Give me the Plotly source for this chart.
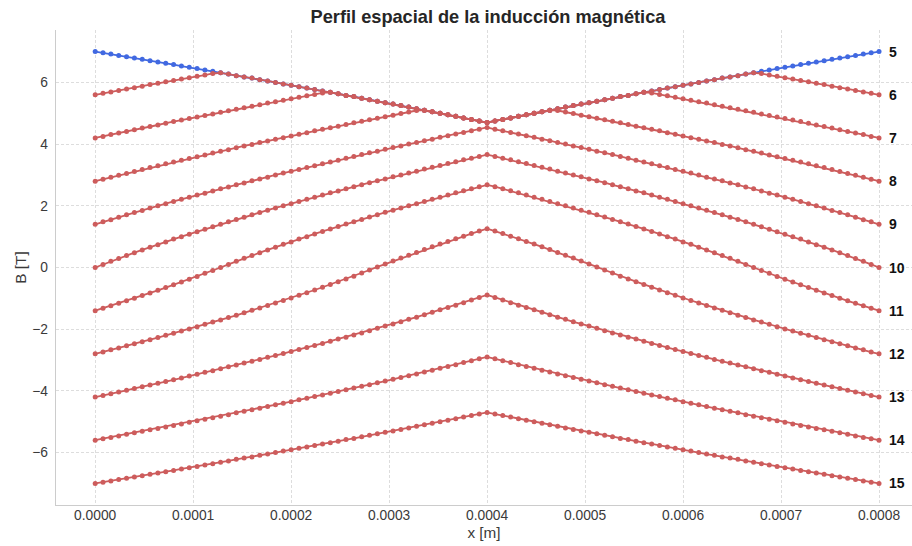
import numpy as np
import plotly.graph_objects as go

# x grid: 101 sample points across the 0.8 mm slab (step 8 µm, as counted in the picture)
x = np.linspace(0.0, 0.0008, 101)

labels = ["5", "6", "7", "8", "9", "10", "11", "12", "13", "14", "15"]

b5 = [7.00,6.96,6.92,6.87,6.83,6.79,6.75,6.70,6.66,6.62,
      6.58,6.53,6.49,6.45,6.40,6.36,6.31,6.27,6.22,6.18,
      6.14,6.09,6.05,6.00,5.95,5.91,5.86,5.82,5.77,5.72,
      5.68,5.63,5.58,5.54,5.49,5.44,5.39,5.34,5.30,5.25,
      5.20,5.15,5.10,5.05,5.00,4.95,4.90,4.85,4.80,4.75,
      4.70,
      4.75,4.80,4.85,4.90,4.95,5.00,5.05,5.10,5.15,5.20,
      5.25,5.30,5.34,5.39,5.44,5.49,5.54,5.58,5.63,5.68,
      5.72,5.77,5.82,5.86,5.91,5.95,6.00,6.05,6.09,6.14,
      6.18,6.22,6.27,6.31,6.36,6.40,6.45,6.49,6.53,6.58,
      6.62,6.66,6.70,6.75,6.79,6.83,6.87,6.92,6.96,7.00]

b6 = [5.60,5.65,5.69,5.74,5.79,5.83,5.88,5.93,5.97,6.02,
      6.06,6.11,6.15,6.20,6.24,6.29,6.31,6.27,6.22,6.18,
      6.14,6.09,6.05,6.00,5.95,5.91,5.86,5.82,5.77,5.72,
      5.68,5.63,5.58,5.54,5.49,5.44,5.39,5.34,5.30,5.25,
      5.20,5.15,5.10,5.05,5.00,4.95,4.90,4.85,4.80,4.75,
      4.70,
      4.75,4.80,4.85,4.90,4.95,5.00,5.05,5.10,5.15,5.20,
      5.25,5.30,5.34,5.39,5.44,5.49,5.54,5.58,5.63,5.68,
      5.72,5.77,5.82,5.86,5.91,5.95,6.00,6.05,6.09,6.14,
      6.18,6.22,6.27,6.31,6.29,6.24,6.20,6.15,6.11,6.06,
      6.02,5.97,5.93,5.88,5.83,5.79,5.74,5.69,5.65,5.60]

b7 = [4.20,4.25,4.31,4.36,4.41,4.47,4.52,4.57,4.62,4.68,
      4.73,4.78,4.83,4.88,4.93,4.98,5.03,5.08,5.13,5.18,
      5.23,5.28,5.33,5.37,5.42,5.47,5.52,5.57,5.61,5.66,
      5.68,5.63,5.58,5.54,5.49,5.44,5.39,5.34,5.30,5.25,
      5.20,5.15,5.10,5.05,5.00,4.95,4.90,4.85,4.80,4.75,
      4.70,
      4.75,4.80,4.85,4.90,4.95,5.00,5.05,5.10,5.15,5.20,
      5.25,5.30,5.34,5.39,5.44,5.49,5.54,5.58,5.63,5.68,
      5.66,5.61,5.57,5.52,5.47,5.42,5.37,5.33,5.28,5.23,
      5.18,5.13,5.08,5.03,4.98,4.93,4.88,4.83,4.78,4.73,
      4.68,4.62,4.57,4.52,4.47,4.41,4.36,4.31,4.25,4.20]

b8 = [2.80,2.86,2.93,2.99,3.05,3.11,3.18,3.24,3.30,3.36,
      3.42,3.48,3.53,3.59,3.65,3.71,3.77,3.82,3.88,3.94,
      3.99,4.05,4.10,4.16,4.21,4.26,4.32,4.37,4.43,4.48,
      4.53,4.58,4.64,4.69,4.74,4.79,4.84,4.89,4.94,4.99,
      5.04,5.09,5.10,5.05,5.00,4.95,4.90,4.85,4.80,4.75,
      4.70,
      4.75,4.80,4.85,4.90,4.95,5.00,5.05,5.10,5.09,5.04,
      4.99,4.94,4.89,4.84,4.79,4.74,4.69,4.64,4.58,4.53,
      4.48,4.43,4.37,4.32,4.26,4.21,4.16,4.10,4.05,3.99,
      3.94,3.88,3.82,3.77,3.71,3.65,3.59,3.53,3.48,3.42,
      3.36,3.30,3.24,3.18,3.11,3.05,2.99,2.93,2.86,2.80]

b9 = [1.40,1.48,1.55,1.63,1.71,1.78,1.85,1.93,2.00,2.07,
      2.14,2.21,2.28,2.35,2.41,2.48,2.55,2.61,2.68,2.74,
      2.81,2.87,2.93,3.00,3.06,3.12,3.18,3.24,3.30,3.36,
      3.42,3.48,3.54,3.60,3.66,3.72,3.77,3.83,3.89,3.94,
      4.00,4.05,4.11,4.16,4.22,4.27,4.33,4.38,4.43,4.48,
      4.54,
      4.48,4.43,4.38,4.33,4.27,4.22,4.16,4.11,4.05,4.00,
      3.94,3.89,3.83,3.77,3.72,3.66,3.60,3.54,3.48,3.42,
      3.36,3.30,3.24,3.18,3.12,3.06,3.00,2.93,2.87,2.81,
      2.74,2.68,2.61,2.55,2.48,2.41,2.35,2.28,2.21,2.14,
      2.07,2.00,1.93,1.85,1.78,1.71,1.63,1.55,1.48,1.40]

b10 = [0.00,0.10,0.20,0.29,0.39,0.48,0.57,0.66,0.74,0.83,
       0.92,1.00,1.08,1.16,1.24,1.32,1.40,1.48,1.56,1.63,
       1.71,1.78,1.86,1.93,2.00,2.07,2.14,2.21,2.28,2.35,
       2.42,2.48,2.55,2.62,2.68,2.75,2.81,2.87,2.94,3.00,
       3.06,3.12,3.19,3.25,3.31,3.37,3.43,3.49,3.54,3.60,
       3.66,
       3.60,3.54,3.49,3.43,3.37,3.31,3.25,3.19,3.12,3.06,
       3.00,2.94,2.87,2.81,2.75,2.68,2.62,2.55,2.48,2.42,
       2.35,2.28,2.21,2.14,2.07,2.00,1.93,1.86,1.78,1.71,
       1.63,1.56,1.48,1.40,1.32,1.24,1.16,1.08,1.00,0.92,
       0.83,0.74,0.66,0.57,0.48,0.39,0.29,0.20,0.10,0.00]

b11 = [-1.40,-1.32,-1.24,-1.16,-1.08,-1.00,-0.91,-0.83,-0.74,-0.65,
       -0.56,-0.47,-0.38,-0.29,-0.19,-0.10,0.00,0.10,0.20,0.30,
       0.39,0.48,0.57,0.66,0.75,0.83,0.92,1.00,1.09,1.17,
       1.25,1.33,1.41,1.48,1.56,1.64,1.71,1.79,1.86,1.93,
       2.00,2.07,2.14,2.21,2.28,2.35,2.42,2.49,2.55,2.62,
       2.68,
       2.62,2.55,2.49,2.42,2.35,2.28,2.21,2.14,2.07,2.00,
       1.93,1.86,1.79,1.71,1.64,1.56,1.48,1.41,1.33,1.25,
       1.17,1.09,1.00,0.92,0.83,0.75,0.66,0.57,0.48,0.39,
       0.30,0.20,0.10,0.00,-0.10,-0.19,-0.29,-0.38,-0.47,-0.56,
       -0.65,-0.74,-0.83,-0.91,-1.00,-1.08,-1.16,-1.24,-1.32,-1.40]

b12 = [-2.80,-2.74,-2.67,-2.61,-2.54,-2.47,-2.41,-2.34,-2.27,-2.20,
       -2.13,-2.06,-1.99,-1.92,-1.84,-1.77,-1.70,-1.62,-1.55,-1.47,
       -1.39,-1.31,-1.23,-1.15,-1.07,-0.99,-0.90,-0.82,-0.73,-0.64,
       -0.55,-0.46,-0.37,-0.28,-0.18,-0.08,0.02,0.11,0.21,0.31,
       0.40,0.49,0.58,0.67,0.76,0.84,0.93,1.01,1.10,1.18,
       1.26,
       1.18,1.10,1.01,0.93,0.84,0.76,0.67,0.58,0.49,0.40,
       0.31,0.21,0.11,0.02,-0.08,-0.18,-0.28,-0.37,-0.46,-0.55,
       -0.64,-0.73,-0.82,-0.90,-0.99,-1.07,-1.15,-1.23,-1.31,-1.39,
       -1.47,-1.55,-1.62,-1.70,-1.77,-1.84,-1.92,-1.99,-2.06,-2.13,
       -2.20,-2.27,-2.34,-2.41,-2.47,-2.54,-2.61,-2.67,-2.74,-2.80]

b13 = [-4.20,-4.15,-4.09,-4.04,-3.98,-3.92,-3.87,-3.81,-3.75,-3.70,
       -3.64,-3.58,-3.52,-3.46,-3.40,-3.35,-3.28,-3.22,-3.16,-3.10,
       -3.04,-2.98,-2.91,-2.85,-2.79,-2.72,-2.66,-2.59,-2.53,-2.46,
       -2.39,-2.32,-2.26,-2.19,-2.12,-2.05,-1.97,-1.90,-1.83,-1.76,
       -1.68,-1.61,-1.53,-1.45,-1.37,-1.30,-1.22,-1.14,-1.05,-0.97,
       -0.89,
       -0.97,-1.05,-1.14,-1.22,-1.30,-1.37,-1.45,-1.53,-1.61,-1.68,
       -1.76,-1.83,-1.90,-1.97,-2.05,-2.12,-2.19,-2.26,-2.32,-2.39,
       -2.46,-2.53,-2.59,-2.66,-2.72,-2.79,-2.85,-2.91,-2.98,-3.04,
       -3.10,-3.16,-3.22,-3.28,-3.35,-3.40,-3.46,-3.52,-3.58,-3.64,
       -3.70,-3.75,-3.81,-3.87,-3.92,-3.98,-4.04,-4.09,-4.15,-4.20]

b14 = [-5.60,-5.55,-5.51,-5.46,-5.41,-5.36,-5.31,-5.26,-5.22,-5.17,
       -5.12,-5.07,-5.02,-4.97,-4.92,-4.87,-4.82,-4.77,-4.71,-4.66,
       -4.61,-4.56,-4.51,-4.45,-4.40,-4.35,-4.29,-4.24,-4.18,-4.13,
       -4.08,-4.02,-3.96,-3.91,-3.85,-3.80,-3.74,-3.68,-3.62,-3.57,
       -3.51,-3.45,-3.39,-3.33,-3.27,-3.21,-3.15,-3.08,-3.02,-2.96,
       -2.90,
       -2.96,-3.02,-3.08,-3.15,-3.21,-3.27,-3.33,-3.39,-3.45,-3.51,
       -3.57,-3.62,-3.68,-3.74,-3.80,-3.85,-3.91,-3.96,-4.02,-4.08,
       -4.13,-4.18,-4.24,-4.29,-4.35,-4.40,-4.45,-4.51,-4.56,-4.61,
       -4.66,-4.71,-4.77,-4.82,-4.87,-4.92,-4.97,-5.02,-5.07,-5.12,
       -5.17,-5.22,-5.26,-5.31,-5.36,-5.41,-5.46,-5.51,-5.55,-5.60]

b15 = [-7.00,-6.96,-6.92,-6.87,-6.83,-6.79,-6.75,-6.70,-6.66,-6.62,
       -6.58,-6.53,-6.49,-6.45,-6.40,-6.36,-6.31,-6.27,-6.22,-6.18,
       -6.14,-6.09,-6.05,-6.00,-5.95,-5.91,-5.86,-5.82,-5.77,-5.72,
       -5.68,-5.63,-5.58,-5.54,-5.49,-5.44,-5.39,-5.34,-5.30,-5.25,
       -5.20,-5.15,-5.10,-5.05,-5.00,-4.95,-4.90,-4.85,-4.80,-4.75,
       -4.70,
       -4.75,-4.80,-4.85,-4.90,-4.95,-5.00,-5.05,-5.10,-5.15,-5.20,
       -5.25,-5.30,-5.34,-5.39,-5.44,-5.49,-5.54,-5.58,-5.63,-5.68,
       -5.72,-5.77,-5.82,-5.86,-5.91,-5.95,-6.00,-6.05,-6.09,-6.14,
       -6.18,-6.22,-6.27,-6.31,-6.36,-6.40,-6.45,-6.49,-6.53,-6.58,
       -6.62,-6.66,-6.70,-6.75,-6.79,-6.83,-6.87,-6.92,-6.96,-7.00]

profiles = [b5, b6, b7, b8, b9, b10, b11, b12, b13, b14, b15]
xticks = [0.0000, 0.0001, 0.0002, 0.0003, 0.0004, 0.0005, 0.0006, 0.0007, 0.0008]
yticks = [-6, -4, -2, 0, 2, 4, 6]

BLUE = '#4169E1'
RED = '#CD5C5C'
GRID = '#dddddd'

fig = go.Figure()
for lab, prof in zip(labels, profiles):
    col = BLUE if lab == "5" else RED
    fig.add_trace(go.Scatter(x=x, y=prof, mode='lines+markers',
                             line=dict(color=col, width=1.8),
                             marker=dict(color=col, size=5, line=dict(width=0)),
                             showlegend=False, cliponaxis=False))
    fig.add_annotation(x=x[-1], y=prof[-1], text=f"<b>{lab}</b>", showarrow=False,
                       xanchor='left', yanchor='middle', xshift=8,
                       font=dict(size=14, color='#111111', family='Liberation Sans'))

fig.update_layout(
    width=912, height=546,
    margin=dict(l=56, r=0, t=30, b=41, pad=0),
    paper_bgcolor='white', plot_bgcolor='white',
    font=dict(family='Liberation Sans', size=13.8, color='#3a3a3a'),
    title=dict(text='<b>Perfil espacial de la inducción magnética</b>',
               x=488/912, xref='container', xanchor='center',
               y=1-16.5/546, yref='container', yanchor='middle',
               font=dict(size=18.2, color='#262626', family='Liberation Sans')),
)
fig.update_xaxes(range=[-0.00004, 0.00083367], tickvals=xticks,
                 ticktext=[f"{v:.4f}" for v in xticks],
                 showgrid=True, gridcolor=GRID, griddash='3px,2px', gridwidth=0.8,
                 showline=True, linecolor='#cccccc', linewidth=1.4, mirror=False,
                 zeroline=False, ticks='', ticklabelstandoff=-3,
                 title=dict(text='x [m]', standoff=5, font=dict(size=15.3, color='#3a3a3a')))
fig.update_yaxes(range=[-7.7, 7.7], tickvals=yticks,
                 showgrid=True, gridcolor=GRID, griddash='3px,2px', gridwidth=0.8,
                 showline=True, linecolor='#cccccc', linewidth=1.4, mirror=False,
                 zeroline=False, ticks='', ticklabelstandoff=4,
                 title=dict(text='B [T]', standoff=1, font=dict(size=15.3, color='#3a3a3a')))

fig.write_html("out.html")
